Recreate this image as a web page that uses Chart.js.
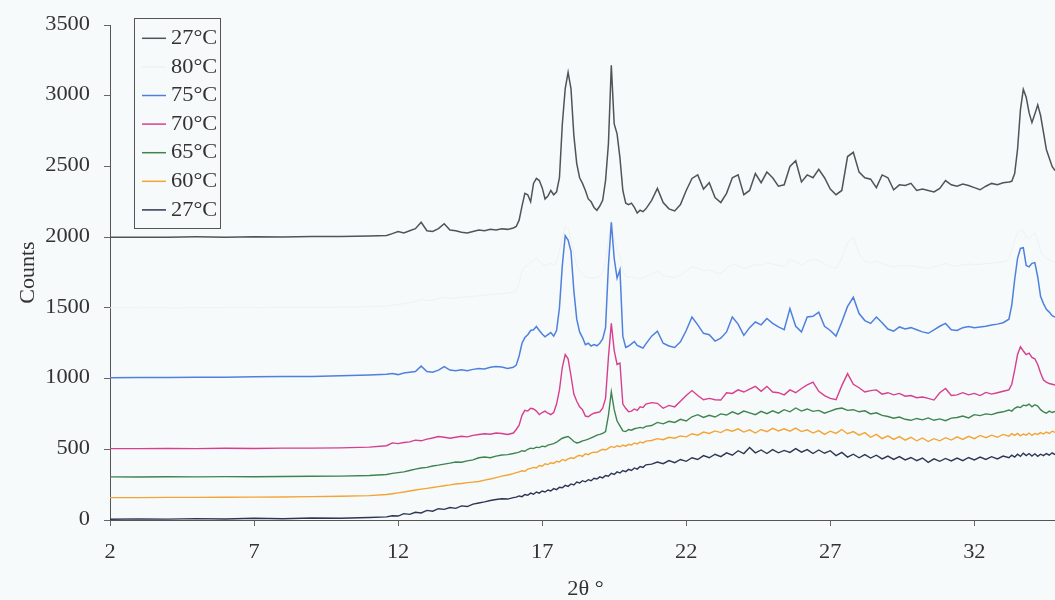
<!DOCTYPE html>
<html><head><meta charset="utf-8">
<script src="https://cdn.jsdelivr.net/npm/chart.js@4.4.1/dist/chart.umd.min.js"></script>
<style>html,body{margin:0;padding:0;background:#f6fafb;}#wrap{width:1055px;height:600px;}</style>
</head><body><div id="wrap"><canvas id="c" width="1055" height="600"></canvas></div>
<script>
// 2θ sampling positions (degrees)
const twoTheta = [
 2,3,4,5,6,7,8,9,10,11,
 11.6,11.8,12,12.2,12.4,12.6,12.8,13,13.2,13.4,13.6,13.8,14,14.2,14.4,14.6,14.8,15,15.2,15.4,15.6,15.8,16,
 16.1,16.2,16.3,16.4,16.5,16.6,16.7,16.8,16.9,17,17.1,17.2,17.3,17.4,17.5,17.6,17.7,17.8,17.9,18,18.1,18.2,18.3,18.4,18.5,18.6,18.7,18.8,18.9,19,19.1,19.2,19.3,19.4,19.5,19.6,19.7,19.8,19.9,20,20.1,20.2,20.3,20.4,20.5,20.6,
 20.8,21,21.2,21.4,21.6,21.8,22,22.2,22.4,22.6,22.8,23,23.2,23.4,23.6,23.8,24,24.2,24.4,24.6,24.8,25,25.2,25.4,25.6,25.8,26,26.2,26.4,26.6,26.8,27,27.2,27.4,27.6,27.8,28,28.2,28.4,28.6,28.8,29,29.2,29.4,29.6,29.8,30,30.2,30.4,30.6,30.8,31,31.2,31.4,31.6,31.8,32,32.2,32.4,32.6,32.8,33,33.2,
 33.3,33.4,33.5,33.6,33.7,33.8,33.9,34,34.1,34.2,34.3,34.4,34.5,34.6,34.7,34.8
];
const xTicks = [2,7,12,17,22,27,32];
const yTicks = [0,500,1000,1500,2000,2500,3000,3500];
const seriesLabels = ['27°C','80°C','75°C','70°C','65°C','60°C','27°C'];
const xTitle = '2θ °';
const yTitle = 'Counts';

const counts27top = [
 2000,2000,2000,2002,2000,2003,2001,2004,2005,2008,
 2012,2025,2040,2030,2045,2060,2105,2045,2040,2060,2095,2050,2045,2035,2030,2040,2050,2045,2055,2050,2060,2055,2065,
 2075,2120,2220,2310,2300,2250,2380,2415,2400,2350,2270,2290,2330,2300,2320,2420,2800,3050,3165,3050,
 2720,2520,2420,2380,2330,2270,2250,2210,2190,2220,2260,2400,2660,3215,2800,2730,2560,2330,2240,2230,
 2240,2210,2170,2190,2180,2200,
 2260,2345,2245,2200,2185,2230,2330,2415,2440,2340,2385,2280,2245,2310,2420,2440,2300,2330,2450,2385,
 2460,2420,2360,2370,2500,2540,2390,2440,2420,2480,2420,2340,2300,2330,2570,2600,2460,2420,2410,2350,
 2440,2420,2335,2370,2365,2380,2330,2340,2330,2320,2345,2400,2370,2360,2375,2365,2350,2335,2360,2380,
 2370,2385,2390,
 2395,2450,2620,2900,3045,2990,2880,2810,2870,2935,2860,2740,2620,2560,2500,2470
];
const counts80 = [
 1500,1500,1500,1501,1502,1502,1503,1504,1505,1508,
 1512,1518,1525,1530,1538,1545,1560,1552,1555,1565,1575,1568,1570,1575,1578,1582,1585,1590,1595,1598,1600,1605,1610,
 1620,1680,1760,1790,1800,1820,1840,1850,1830,1810,1800,1805,1815,1800,1830,1900,2000,2080,2060,1980,
 1880,1800,1760,1740,1720,1715,1710,1712,1715,1725,1750,1820,1980,2120,2000,1900,1880,1760,1720,1715,
 1720,1710,1712,1705,1710,1720,
 1740,1760,1730,1720,1715,1730,1760,1790,1780,1760,1770,1750,1745,1780,1810,1800,1780,1790,1810,1800,
 1820,1810,1800,1795,1840,1830,1800,1830,1840,1835,1810,1790,1780,1850,1960,2000,1880,1830,1820,1830,
 1815,1800,1790,1800,1795,1800,1790,1785,1780,1790,1800,1815,1800,1795,1805,1810,1805,1808,1812,1815,
 1820,1825,1840,
 1900,1980,2030,2050,2045,2000,1990,2010,2030,1980,1900,1870,1850,1840,1830,1825
];
const counts75 = [
 1005,1007,1008,1010,1010,1012,1014,1015,1020,1025,
 1030,1035,1028,1040,1045,1050,1088,1050,1045,1060,1085,1060,1055,1062,1055,1065,1072,1068,1080,1085,1082,1072,1080,
 1095,1160,1250,1290,1310,1340,1345,1368,1340,1315,1295,1310,1325,1300,1340,1500,1800,2010,1980,1900,
 1620,1420,1330,1290,1240,1250,1230,1240,1232,1250,1280,1360,1800,2105,1850,1710,1770,1300,1220,1230,
 1245,1262,1235,1225,1215,1245,
 1300,1335,1250,1230,1220,1260,1340,1435,1380,1320,1310,1265,1285,1330,1435,1385,1305,1360,1400,1380,
 1425,1390,1365,1345,1495,1370,1330,1435,1440,1470,1370,1340,1300,1400,1510,1575,1460,1410,1390,1435,
 1395,1350,1335,1365,1350,1360,1345,1330,1320,1345,1370,1390,1345,1340,1360,1368,1360,1365,1370,1378,
 1385,1395,1420,
 1520,1700,1850,1920,1925,1800,1790,1815,1820,1720,1580,1530,1490,1470,1445,1435
];
const counts70 = [
 505,505,506,505,507,506,508,508,510,515,
 525,545,540,548,552,565,560,572,580,590,585,578,585,592,588,598,605,610,606,615,612,605,615,
 640,670,740,775,770,790,785,770,745,760,770,755,745,760,820,920,1080,1170,1140,1020,
 890,840,800,780,735,730,745,755,760,765,790,860,1150,1390,1200,1100,1110,820,790,765,
 770,785,775,800,795,820,
 830,825,790,810,800,840,880,915,880,850,860,850,848,900,895,920,905,925,945,910,
 945,905,900,885,920,900,930,955,975,910,880,860,850,950,1035,960,935,905,915,920,
 890,900,885,895,875,880,865,870,860,848,900,930,880,885,900,885,895,880,902,890,
 900,910,920,
 960,1060,1170,1225,1195,1170,1180,1150,1140,1100,1040,990,975,965,960,954
];
const counts65 = [
 305,304,306,305,307,306,308,309,310,315,
 322,330,335,340,350,360,368,372,382,388,395,402,410,408,418,425,440,445,440,452,460,462,470,
 475,480,490,486,500,508,505,515,512,522,518,530,535,540,550,565,578,585,590,575,
 555,545,550,560,565,572,580,590,600,605,612,625,740,905,780,700,665,630,625,640,
 635,645,650,655,650,662,
 668,690,680,698,690,712,700,730,745,725,740,728,750,742,765,748,770,758,745,768,
 752,772,755,780,765,792,770,785,768,775,755,770,785,792,775,780,765,772,750,758,
 740,732,720,728,712,705,718,708,722,705,715,702,720,725,735,722,745,738,750,745,
 758,765,778,
 770,790,800,795,812,808,820,800,815,805,780,765,755,770,760,768
];
const counts60 = [
 158,158,160,160,161,162,163,165,168,172,
 180,186,192,198,205,212,218,224,230,236,242,248,255,258,264,268,272,282,290,300,310,318,328,
 335,340,348,345,360,365,372,368,385,380,398,392,405,400,415,410,428,420,432,440,
 435,450,458,450,468,462,475,480,478,490,500,495,508,520,512,525,518,530,522,535,
 530,545,538,552,545,558,
 562,575,568,585,578,595,588,610,600,622,612,630,618,640,628,645,622,638,615,640,
 625,648,630,645,628,650,625,638,615,632,605,628,612,640,610,625,600,618,585,605,
 575,595,570,590,565,585,560,580,555,575,560,582,565,588,570,592,575,598,582,600,
 585,605,592,
 610,598,612,595,608,600,615,598,612,605,618,608,622,612,628,620
];
const counts27bottom = [
 5,8,6,10,7,12,9,14,12,18,
 22,30,28,45,40,55,50,68,62,80,75,88,82,100,95,112,120,128,138,145,150,148,158,
 162,170,165,180,175,190,182,198,190,205,198,212,205,222,215,232,228,245,238,255,
 248,268,262,278,270,285,278,295,290,305,298,315,310,330,322,340,332,350,342,358,
 350,368,360,378,372,390,
 395,410,398,420,405,428,415,440,428,455,440,465,448,475,458,490,470,512,475,495,
 470,498,475,492,478,505,480,498,470,495,472,490,455,478,445,465,440,462,438,458,
 432,452,428,448,425,442,420,438,408,432,415,435,418,438,420,442,425,445,428,448,
 432,452,440,
 458,445,465,450,472,455,470,452,468,450,465,455,470,458,475,462
];

const allSeries = [counts27top, counts80, counts75, counts70, counts65, counts60, counts27bottom];
const colors = ['#505457', '#eef2f4', '#4f80de', '#d83e8e', '#3f8450', '#f4a434', '#2d3654'];
const widths = [1.5, 1, 1.5, 1.4, 1.4, 1.4, 1.4];
const SERIF = "'Liberation Serif', 'Times New Roman', serif";
const STRETCH = 1.12;

function drawText(ctx, text, x, y, align) {
  ctx.save();
  ctx.translate(x, y);
  ctx.scale(STRETCH, 1);
  ctx.textAlign = align;
  ctx.fillText(text, 0, 0);
  ctx.restore();
}

const bgPlugin = {
  id: 'bg',
  beforeDraw(chart) {
    const ctx = chart.ctx;
    ctx.save();
    ctx.fillStyle = '#f6fafb';
    ctx.fillRect(0, 0, chart.width, chart.height);
    ctx.restore();
  }
};

const textPlugin = {
  id: 'texts',
  afterDraw(chart) {
    const ctx = chart.ctx, xs = chart.scales.x, ys = chart.scales.y;
    ctx.save();
    ctx.fillStyle = '#333';
    ctx.font = '20px ' + SERIF;
    ctx.textBaseline = 'middle';
    yTicks.forEach(v => drawText(ctx, String(v), 90, ys.getPixelForValue(v) - 0.5, 'right'));
    xTicks.forEach(v => drawText(ctx, String(v), xs.getPixelForValue(v), 553, 'center'));
    drawText(ctx, xTitle, (xs.left + xs.right) / 2 + 3, 590, 'center');
    ctx.save();
    ctx.translate(28, (ys.top + ys.bottom) / 2);
    ctx.rotate(-Math.PI / 2);
    ctx.font = '22px ' + SERIF;
    ctx.textAlign = 'center';
    ctx.fillText(yTitle, 0, 0);
    ctx.restore();
    ctx.restore();
  }
};

const legendBox = {
  id: 'legendBox',
  afterDraw(chart) {
    const ctx = chart.ctx;
    ctx.save();
    const x0 = 134.5, y0 = 18.5, w = 86, h = 210;
    ctx.fillStyle = '#f6fafb';
    ctx.fillRect(x0, y0, w, h);
    ctx.strokeStyle = '#555';
    ctx.lineWidth = 1;
    ctx.strokeRect(x0, y0, w, h);
    ctx.font = '20px ' + SERIF;
    ctx.textBaseline = 'middle';
    chart.data.datasets.forEach((ds, i) => {
      const y = 38.3 + i * 28.6;
      ctx.strokeStyle = ds.borderColor;
      ctx.lineWidth = 1.5;
      ctx.beginPath();
      ctx.moveTo(142, y);
      ctx.lineTo(166, y);
      ctx.stroke();
      ctx.fillStyle = '#333';
      drawText(ctx, ds.label, 171, y + 0.5, 'left');
    });
    ctx.restore();
  }
};

new Chart(document.getElementById('c'), {
  type: 'line',
  data: {
    datasets: allSeries.map((arr, i) => ({
      label: seriesLabels[i],
      data: twoTheta.map((t, j) => ({x: t, y: arr[j]})),
      borderColor: colors[i],
      borderWidth: widths[i],
      pointRadius: 0,
      tension: 0,
      fill: false,
      order: i === 1 ? 10 : i
    }))
  },
  options: {
    responsive: false,
    animation: false,
    devicePixelRatio: 1,
    layout: {padding: {left: 0, right: 0, top: 25, bottom: 0}},
    plugins: {legend: {display: false}, tooltip: {enabled: false}},
    scales: {
      x: {
        type: 'linear', min: 2, max: 34.8,
        afterBuildTicks: s => { s.ticks = xTicks.map(v => ({value: v})); },
        afterFit: s => { s.height = 80; },
        grid: {display: true, drawOnChartArea: false, drawTicks: true, tickLength: 6, color: '#666'},
        border: {display: true, color: '#555', width: 1},
        ticks: {display: false},
        title: {display: false}
      },
      y: {
        type: 'linear', min: 0, max: 3500,
        afterBuildTicks: s => { s.ticks = yTicks.map(v => ({value: v})); },
        afterFit: s => { s.width = 110; },
        grid: {display: true, drawOnChartArea: false, drawTicks: true, tickLength: 6, color: '#666'},
        border: {display: true, color: '#555', width: 1},
        ticks: {display: false},
        title: {display: false}
      }
    }
  },
  plugins: [bgPlugin, textPlugin, legendBox]
});
</script></body></html>
